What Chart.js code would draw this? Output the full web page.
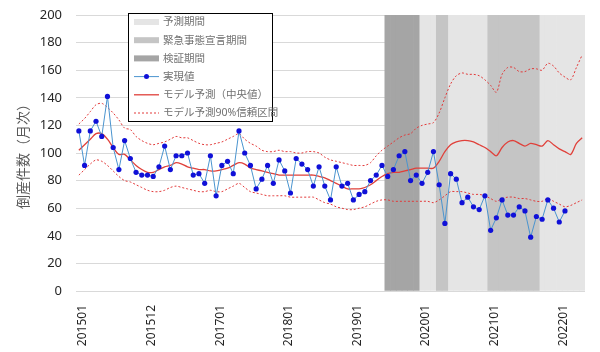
<!DOCTYPE html>
<html>
<head>
<meta charset="utf-8">
<script src="https://cdn.jsdelivr.net/npm/chart.js@4.4.1/dist/chart.umd.min.js"></script>
<style>
  html, body { margin: 0; padding: 0; background: #fff; }
  #wrap { width: 600px; height: 352px; position: relative; }
</style>
</head>
<body>
<div id="wrap"><canvas id="bankruptcyChart"></canvas></div>
<script>
// months 201501 .. 202205
const categories = [];
for (let y = 2015; y <= 2022; y++) {
    for (let m = 1; m <= 12; m++) {
        const s = `${y}${String(m).padStart(2, '0')}`;
        if (s <= '202205') categories.push(s);
    }
}
// labels shown on the axis, one every 12 months
const tickLabels = ['201501', '201512', '201701', '201801', '201901', '202001', '202101', '202201'];
const yMax = 200;
const yStep = 20;

// 実現値 (201501 .. 202202)
const actual = [116, 91, 116, 123, 112, 141, 104, 88, 109, 96,
    86, 84, 84, 83, 90, 105, 88, 98, 98, 100,
    84, 85, 78, 98, 69, 91, 94, 85, 116, 100,
    91, 74, 81, 91, 78, 95, 87, 71, 96, 92,
    88, 76, 90, 76, 66, 90, 76, 78, 66, 70,
    72, 80, 84, 91, 83, 88, 98, 101, 80, 84,
    78, 86, 101, 77, 49, 85, 81, 64, 68, 61,
    59, 69, 44, 53, 66, 55, 55, 61, 58, 39,
    54, 52, 66, 60, 50, 58];
// モデル予測（中央値）
const median = [102, 106, 110, 114, 114, 110, 104, 99, 99, 95,
    91, 88, 86, 86, 88, 90, 91, 93, 92, 90,
    89, 88, 88, 87, 87, 88, 89, 91, 93, 92,
    89, 88, 87, 86, 85, 84, 84, 84, 84, 84,
    84, 84, 83, 82, 80, 78, 76, 74, 74, 74,
    75, 77, 80, 83, 85, 86, 86, 87, 88, 89,
    89, 89, 89, 94, 101, 106, 108, 109, 109, 108,
    106, 104, 101, 98, 104, 108, 109, 107, 105, 107,
    106, 105, 109, 106, 103, 101, 99, 107, 111];
// 90%信頼区間 上限
const upper = [121, 125, 130, 135, 136, 133, 129, 124, 118, 117,
    112, 109, 107, 106, 107, 108, 110, 112, 111, 111,
    109, 107, 106, 106, 107, 108, 110, 112, 114, 110,
    107, 105, 102, 101, 101, 102, 101, 101, 100, 100,
    101, 101, 100, 97, 95, 94, 93, 92, 91, 91,
    91, 93, 98, 102, 105, 108, 111, 113, 114, 118,
    120, 121, 122, 129, 140, 150, 156, 158, 157, 157,
    156, 153, 149, 144, 157, 162, 162, 159, 159, 161,
    161, 160, 165, 163, 158, 155, 153, 162, 171];
// 90%信頼区間 下限
const lower = [84, 88, 92, 95, 94, 91, 87, 83, 80, 79,
    77, 75, 73, 72, 72, 73, 75, 76, 75, 74,
    73, 72, 72, 73, 72, 72, 74, 76, 78, 75,
    72, 71, 70, 69, 69, 69, 69, 68, 68, 68,
    68, 68, 66, 64, 63, 61, 60, 59, 59, 60,
    61, 63, 65, 66, 66, 65, 65, 65, 65, 65,
    65, 65, 64, 66, 69, 72, 72, 72, 71, 70,
    70, 69, 67, 65, 67, 68, 68, 67, 67, 66,
    65, 65, 67, 65, 63, 61, 62, 64, 66];

const forecastPeriod = ['202001', '202205'];
const emergencyPeriods = [['202004', '202005'], ['202101', '202109']];
const verificationPeriod = ['201907', '201912'];

const inRange = (c, r) => c >= r[0] && c <= r[1];
const forecastBars = categories.map(c => inRange(c, forecastPeriod) ? yMax : null);
const emergencyBars = categories.map(c => emergencyPeriods.some(r => inRange(c, r)) ? yMax : null);
const verificationBars = categories.map(c => inRange(c, verificationPeriod) ? yMax : null);

const jpFont = "'Noto Sans', 'Noto Sans CJK JP', sans-serif";

// legend box drawn inside the plot, like the original
const boxLegend = {
    id: 'boxLegend',
    afterDraw(chart) {
        const ctx = chart.ctx;
        const items = chart.data.datasets.filter(d => !d.noLegend);
        const x0 = 128.5, y0 = 13.5, w = 144, h = 108;
        ctx.save();
        ctx.fillStyle = '#ffffff';
        ctx.fillRect(x0, y0, w, h);
        ctx.strokeStyle = '#000000';
        ctx.lineWidth = 1;
        ctx.strokeRect(x0, y0, w, h);
        ctx.font = "10.5px " + jpFont;
        ctx.textBaseline = 'middle';
        items.forEach((d, i) => {
            const y = y0 + 8.5 + i * 18.2;
            const sx = 134, ex = 159;
            if (d.type === 'bar') {
                ctx.fillStyle = d.backgroundColor;
                ctx.fillRect(sx, y - 3, ex - sx, 6);
            } else {
                ctx.strokeStyle = d.borderColor;
                ctx.lineWidth = d.borderWidth;
                ctx.setLineDash(d.borderDash || []);
                ctx.beginPath();
                ctx.moveTo(sx, y);
                ctx.lineTo(ex, y);
                ctx.stroke();
                ctx.setLineDash([]);
                if (d.pointRadius) {
                    ctx.fillStyle = d.pointBackgroundColor;
                    ctx.beginPath();
                    ctx.arc((sx + ex) / 2, y, 2.5, 0, Math.PI * 2);
                    ctx.fill();
                }
            }
            ctx.fillStyle = '#707070';
            ctx.fillText(d.label, 163, y + 0.5);
        });
        ctx.restore();
    }
};

const ctx = document.getElementById('bankruptcyChart').getContext('2d');
new Chart(ctx, {
    type: 'bar',
    data: {
        labels: categories,
        datasets: [
            { type: 'bar', label: '予測期間', data: forecastBars, backgroundColor: '#e5e5e5', order: 6,
              grouped: false, barPercentage: 1, categoryPercentage: 1, borderWidth: 0 },
            { type: 'bar', label: '緊急事態宣言期間', data: emergencyBars, backgroundColor: '#c5c5c5', order: 5,
              grouped: false, barPercentage: 1, categoryPercentage: 1, borderWidth: 0 },
            { type: 'bar', label: '検証期間', data: verificationBars, backgroundColor: '#a5a5a5', order: 5,
              grouped: false, barPercentage: 1, categoryPercentage: 1, borderWidth: 0 },
            { type: 'line', label: '実現値', data: actual, borderColor: '#4a94cf', borderWidth: 1,
              pointRadius: 2.6, pointBackgroundColor: '#1010d8', pointBorderColor: '#1010d8', pointBorderWidth: 0,
              tension: 0, order: 0 },
            { type: 'line', label: 'モデル予測（中央値）', data: median, borderColor: '#e0403a', borderWidth: 1.3,
              pointRadius: 0, tension: 0.3, order: 1 },
            { type: 'line', label: 'モデル予測90%信頼区間', data: upper, borderColor: '#e23a3a', borderWidth: 1,
              borderDash: [2, 2], pointRadius: 0, tension: 0.3, order: 2 },
            { type: 'line', label: 'モデル予測90%信頼区間', data: lower, borderColor: '#e23a3a', borderWidth: 1,
              borderDash: [2, 2], pointRadius: 0, tension: 0.3, order: 2, noLegend: true }
        ]
    },
    options: {
        responsive: true,
        maintainAspectRatio: false,
        animation: false,
        layout: { padding: { top: 15, right: 15, bottom: 5, left: 16 } },
        plugins: {
            legend: { display: false },
            tooltip: { enabled: false }
        },
        scales: {
            x: {
                offset: true,
                grid: { display: false },
                border: { display: false },
                afterFit: scale => { scale.height = 56; },
                ticks: {
                    autoSkip: false,
                    maxRotation: 90,
                    minRotation: 90,
                    color: '#262626',
                    font: { size: 12, family: jpFont },
                    padding: 6,
                    labelOffset: 4,
                    callback: (v, i) => i % 12 === 0 ? tickLabels[i / 12] : null
                }
            },
            y: {
                min: 0,
                max: yMax,
                afterFit: scale => {
                    scale.width = 60;
                    scale.paddingTop = 0;
                    scale.paddingBottom = 0;
                },
                ticks: { stepSize: yStep, color: '#262626', font: { size: 13, family: jpFont }, padding: 14 },
                grid: { color: '#d9d9d9', drawTicks: false },
                border: { display: false },
                title: {
                    display: true,
                    text: '倒産件数（月次）',
                    color: '#595959',
                    font: { size: 14, family: jpFont },
                    padding: { top: 0, bottom: 4 }
                }
            }
        }
    },
    plugins: [boxLegend]
});
</script>
</body>
</html>
